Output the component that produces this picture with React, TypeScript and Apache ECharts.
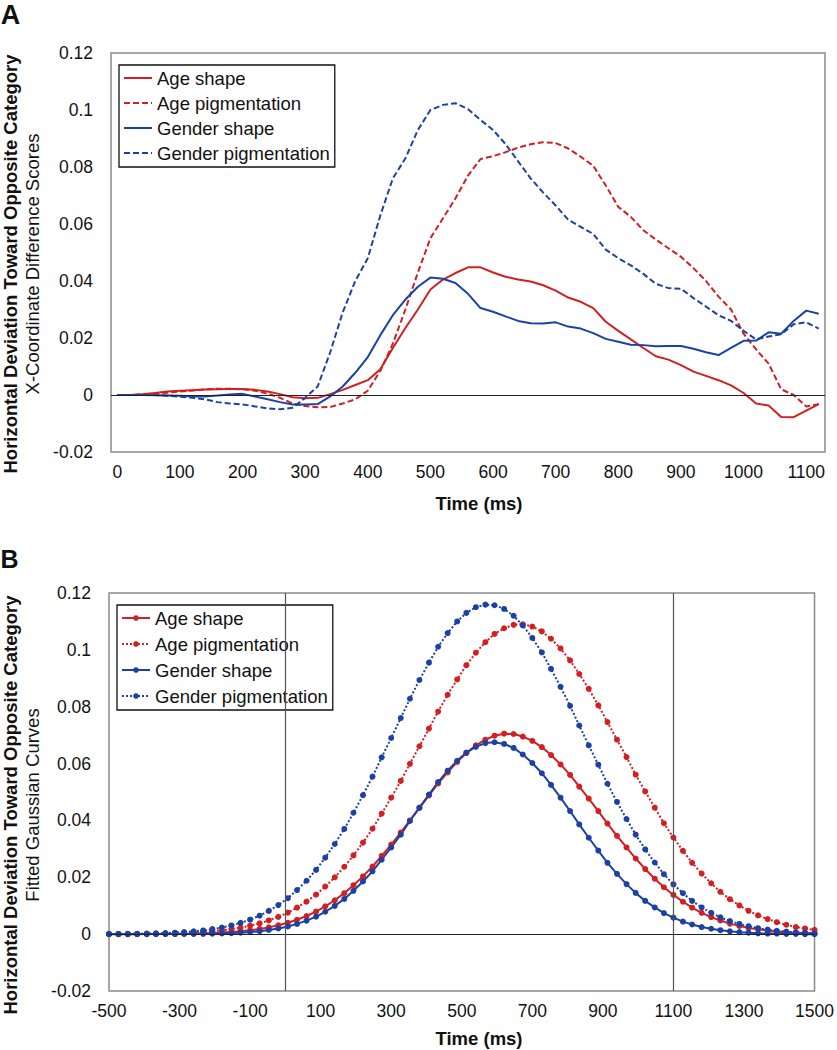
import React, { useEffect, useRef } from 'react';
import * as echarts from 'echarts';

const FONT = '"Liberation Sans", Arial, Helvetica, sans-serif';
const RED = '#d21f22';
const BLUE = '#1b42a3';
const TXT = '#111111';

const seriesNames = ['Age shape', 'Age pigmentation', 'Gender shape', 'Gender pigmentation'];

// ---------- Panel A: X-coordinate difference scores (20 ms bins) ----------
const timeA = ['0', '20', '40', '60', '80', '100', '120', '140', '160', '180', '200',
  '220', '240', '260', '280', '300', '320', '340', '360', '380', '400',
  '420', '440', '460', '480', '500', '520', '540', '560', '580', '600',
  '620', '640', '660', '680', '700', '720', '740', '760', '780', '800',
  '820', '840', '860', '880', '900', '920', '940', '960', '980', '1000',
  '1020', '1040', '1060', '1080', '1100', '1120'];

const ageShapeA = [0, 0, 0.0003, 0.0007, 0.0012, 0.0015, 0.0017, 0.0019, 0.002, 0.0021, 0.0021,
  0.0018, 0.0012, 0.0003, -0.0008, -0.0011, -0.001, 0.0003, 0.0018, 0.0035, 0.0052,
  0.009, 0.0165, 0.0235, 0.03, 0.037, 0.0405, 0.0428, 0.0448, 0.0448, 0.043,
  0.0415, 0.0405, 0.0398, 0.0385, 0.0366, 0.0342, 0.0327, 0.0305, 0.0257, 0.0225,
  0.0195, 0.0165, 0.0136, 0.0124, 0.0105, 0.0082, 0.0067, 0.0052, 0.0034, 0.0007,
  -0.003, -0.0037, -0.0077, -0.0078, -0.0055, -0.0032];

const agePigA = [0, 0, 0.0002, 0.0005, 0.0008, 0.0012, 0.0016, 0.002, 0.0022, 0.0022, 0.002,
  0.0015, 0.0005, -0.001, -0.003, -0.0039, -0.0043, -0.0042, -0.003, -0.0015, 0.0015,
  0.0085, 0.018, 0.03, 0.043, 0.055, 0.062, 0.069, 0.077, 0.0828, 0.0838,
  0.0852, 0.0868, 0.088, 0.0887, 0.0884, 0.0865, 0.0836, 0.0804, 0.0735, 0.066,
  0.0625, 0.0578, 0.0545, 0.0515, 0.0485, 0.0445, 0.04, 0.0345, 0.03, 0.0215,
  0.016, 0.011, 0.002, 0, -0.004, -0.0032];

const genderShapeA = [0, 0, 0, -0.0001, -0.0002, -0.0003, -0.0005, -0.0005, -0.0002, 0.0002, 0.0004,
  -0.0005, -0.0015, -0.0025, -0.0033, -0.0033, -0.0032, -0.0005, 0.003, 0.0078, 0.0133,
  0.021, 0.028, 0.0335, 0.038, 0.0412, 0.0408, 0.0393, 0.0355, 0.0305, 0.0292,
  0.0276, 0.026, 0.0252, 0.0251, 0.0255, 0.024, 0.0233, 0.0217, 0.0197, 0.0187,
  0.0176, 0.0175, 0.0171, 0.0172, 0.0172, 0.0162, 0.015, 0.014, 0.0165, 0.019,
  0.0191, 0.022, 0.0215, 0.026, 0.0296, 0.0285];

const genderPigA = [0, 0, 0, 0, -0.0003, -0.0006, -0.001, -0.0015, -0.0025, -0.003, -0.0033,
  -0.004, -0.0047, -0.005, -0.0045, -0.001, 0.003, 0.015, 0.029, 0.04, 0.048,
  0.063, 0.076, 0.083, 0.093, 0.1, 0.1018, 0.1024, 0.1003, 0.0965, 0.093,
  0.088, 0.082, 0.076, 0.071, 0.0665, 0.0615, 0.059, 0.0565, 0.051, 0.048,
  0.0455, 0.0425, 0.039, 0.0375, 0.0373, 0.034, 0.031, 0.028, 0.026, 0.0225,
  0.0195, 0.0205, 0.0213, 0.0248, 0.0255, 0.0233];

// ---------- Panel B: fitted Gaussian curves ----------
const timeB = [-500, -473, -447, -420, -393, -367, -340, -313, -287, -260, -233, -207, -180, -153, -127,
  -100, -73, -47, -20, 7, 33, 60, 87, 113, 140, 167, 193, 220, 247, 273, 300, 327, 353, 380, 407, 433,
  460, 487, 513, 540, 567, 593, 620, 647, 673, 700, 727, 753, 780, 807, 833, 860, 887, 913, 940, 967,
  993, 1020, 1047, 1073, 1100, 1127, 1153, 1180, 1207, 1233, 1260, 1287, 1313, 1340, 1367, 1393, 1420,
  1447, 1473, 1500];

const ageShapeB = [0.00001, 0.00001, 0.00001, 0.00002, 0.00003, 0.00005, 0.00007, 0.0001, 0.00014, 0.0002,
  0.00028, 0.0004, 0.00055, 0.00075, 0.00102, 0.00137, 0.00182, 0.00238, 0.0031, 0.00399,
  0.00506, 0.00638, 0.00794, 0.00979, 0.01193, 0.01441, 0.01722, 0.0203, 0.0238, 0.0275,
  0.0315, 0.0357, 0.04, 0.0444, 0.0488, 0.053, 0.0569, 0.0606, 0.0637, 0.0664,
  0.0684, 0.0698, 0.0705, 0.0704, 0.0695, 0.068, 0.0658, 0.063, 0.0597, 0.056,
  0.0519, 0.0477, 0.0433, 0.0389, 0.0346, 0.0305, 0.0266, 0.0229, 0.0195, 0.0165,
  0.0138, 0.0114, 0.0093, 0.0075, 0.006, 0.0048, 0.0037, 0.0029, 0.0022, 0.0017,
  0.0013, 0.0009, 0.0007, 0.0005, 0.0004, 0.0003];

const agePigB = [0.00003, 0.00004, 0.00005, 0.00008, 0.00011, 0.00016, 0.00022, 0.0003, 0.00041, 0.00056,
  0.00076, 0.00102, 0.00134, 0.00177, 0.0023, 0.00297, 0.0038, 0.00482, 0.00608, 0.00756,
  0.00936, 0.01144, 0.01392, 0.01673, 0.02, 0.0237, 0.0277, 0.0322, 0.0371, 0.0424,
  0.048, 0.0539, 0.0599, 0.0661, 0.0723, 0.0783, 0.0842, 0.0896, 0.0946, 0.099,
  0.1027, 0.1056, 0.1076, 0.1088, 0.109, 0.1082, 0.1065, 0.1039, 0.1005, 0.0963,
  0.0915, 0.0863, 0.0805, 0.0746, 0.0684, 0.0623, 0.0561, 0.0502, 0.0445, 0.039,
  0.034, 0.0293, 0.0251, 0.0213, 0.0179, 0.0149, 0.0123, 0.0101, 0.0082, 0.0066,
  0.0053, 0.0042, 0.0033, 0.0025, 0.002, 0.0015];

const genderShapeB = [0, 0, 0, 0, 0.00001, 0.00001, 0.00002, 0.00003, 0.00005, 0.00007,
  0.00011, 0.00017, 0.00025, 0.00036, 0.00053, 0.00075, 0.00105, 0.00146, 0.002, 0.0027,
  0.0036, 0.00474, 0.00615, 0.00787, 0.00994, 0.01239, 0.01524, 0.01851, 0.0221, 0.0262,
  0.0305, 0.035, 0.0398, 0.0445, 0.0491, 0.0535, 0.0575, 0.061, 0.0639, 0.0659,
  0.0672, 0.0675, 0.0669, 0.0655, 0.0632, 0.0602, 0.0566, 0.0525, 0.048, 0.0433,
  0.0386, 0.0339, 0.0294, 0.0251, 0.0212, 0.0176, 0.0145, 0.0117, 0.0094, 0.0074,
  0.0058, 0.0044, 0.0034, 0.0025, 0.0019, 0.0014, 0.001, 0.0007, 0.0005, 0.0003,
  0.0002, 0.0002, 0.0001, 0.0001, 0, 0];

const genderPigB = [0.00004, 0.00006, 0.00009, 0.00013, 0.00019, 0.00026, 0.00037, 0.00052, 0.00071, 0.00097,
  0.00131, 0.00176, 0.00233, 0.00305, 0.00396, 0.0051, 0.0065, 0.00818, 0.01022, 0.01265,
  0.01551, 0.01879, 0.0226, 0.0269, 0.0317, 0.037, 0.0427, 0.0489, 0.0554, 0.0622,
  0.069, 0.076, 0.0828, 0.0894, 0.0955, 0.1011, 0.1059, 0.11, 0.113, 0.115,
  0.1159, 0.1157, 0.1144, 0.112, 0.1086, 0.1042, 0.0991, 0.0933, 0.087, 0.0803,
  0.0734, 0.0664, 0.0596, 0.0529, 0.0465, 0.0405, 0.035, 0.0298, 0.0252, 0.0211,
  0.0175, 0.0144, 0.0117, 0.0094, 0.0075, 0.0059, 0.0046, 0.0036, 0.0028, 0.0021,
  0.0016, 0.0012, 0.0009, 0.0006, 0.0005, 0.0003];

const yTitleBold = 'Horizontal Deviation Toward Opposite Category';
const yTitleA = 'X-Coordinate Difference Scores';
const yTitleB = 'Fitted Gaussian Curves';
const xTitle = 'Time (ms)';

const yFmt = (v: number) => String(parseFloat(Number(v).toFixed(2)));

function textEl(text: string, x: number, y: number, size: number, bold: boolean, rot = 0) {
  return {
    type: 'text',
    x,
    y,
    rotation: rot,
    silent: true,
    style: {
      text,
      fill: TXT,
      fontSize: size,
      fontWeight: bold ? 'bold' : 'normal',
      fontFamily: FONT,
      align: 'center',
      verticalAlign: 'middle',
      textAlign: 'center',
      textVerticalAlign: 'middle',
    },
  };
}

function legendCfg(top: number, gap: number, left: number, hideSymbol: boolean) {
  const cfg: any = {
    orient: 'vertical',
    left,
    top,
    itemWidth: 28,
    itemHeight: 7,
    itemGap: gap,
    padding: [3, 5, 4, 4],
    borderColor: '#111',
    borderWidth: 1.3,
    backgroundColor: '#fff',
    selectedMode: false,
    textStyle: { fontFamily: FONT, fontSize: 18.5, color: TXT, lineHeight: 20 },
    data: seriesNames,
  };
  if (hideSymbol) cfg.itemStyle = { opacity: 0 };
  return cfg;
}

const tickLabel = { fontFamily: FONT, fontSize: 17.5, color: TXT };

function optionA(): any {
  const styles = [
    { color: RED, type: 'solid' },
    { color: RED, type: [6, 3] },
    { color: BLUE, type: 'solid' },
    { color: BLUE, type: [6, 3] },
  ];
  const data = [ageShapeA, agePigA, genderShapeA, genderPigA];
  return {
    animation: false,
    backgroundColor: '#fff',
    textStyle: { fontFamily: FONT },
    grid: { left: 111, top: 53, width: 714, height: 399, show: true, borderColor: '#8a8a8a', borderWidth: 1.5 },
    xAxis: {
      type: 'category',
      data: timeA,
      boundaryGap: true,
      axisLine: { show: false },
      axisTick: { show: false },
      splitLine: { show: false },
      axisLabel: { ...tickLabel, interval: 4, margin: 11 },
    },
    yAxis: {
      type: 'value',
      min: -0.02,
      max: 0.12,
      interval: 0.02,
      axisLine: { show: false },
      axisTick: { show: false },
      splitLine: { show: false },
      axisLabel: { ...tickLabel, margin: 18, formatter: yFmt },
    },
    legend: legendCfg(65, 5, 119, true),
    series: seriesNames.map((name, i) => ({
      name,
      type: 'line',
      data: data[i],
      symbol: 'none',
      smooth: false,
      emphasis: { disabled: true },
      itemStyle: { color: styles[i].color },
      lineStyle: { color: styles[i].color, width: 2, type: styles[i].type },
      z: 3,
      markLine: i === 0 ? {
        silent: true,
        symbol: ['none', 'none'],
        label: { show: false },
        lineStyle: { color: '#222', width: 1.2, type: 'solid' },
        data: [{ yAxis: 0 }],
      } : undefined,
    })),
    graphic: [
      textEl('A', 10.5, 15, 27, true),
      textEl(yTitleBold, 10, 264, 18.5, true, Math.PI / 2),
      textEl(yTitleA, 32, 264, 18.5, false, Math.PI / 2),
      textEl(xTitle, 479, 503, 18.5, true),
    ],
  };
}

function optionB(): any {
  const styles = [
    { color: RED, type: 'solid' },
    { color: RED, type: [2, 2] },
    { color: BLUE, type: 'solid' },
    { color: BLUE, type: [2, 2] },
  ];
  const data = [ageShapeB, agePigB, genderShapeB, genderPigB];
  return {
    animation: false,
    backgroundColor: '#fff',
    textStyle: { fontFamily: FONT },
    grid: { left: 109, top: 63, width: 715, height: 398, show: true, borderColor: '#8a8a8a', borderWidth: 1.5 },
    xAxis: {
      type: 'value',
      min: -500,
      max: 1500,
      interval: 200,
      axisLine: { show: false },
      axisTick: { show: false },
      splitLine: { show: false },
      axisLabel: { ...tickLabel, margin: 11, formatter: (v: number) => String(v) },
    },
    yAxis: {
      type: 'value',
      min: -0.02,
      max: 0.12,
      interval: 0.02,
      axisLine: { show: false },
      axisTick: { show: false },
      splitLine: { show: false },
      axisLabel: { ...tickLabel, margin: 18, formatter: yFmt },
    },
    legend: legendCfg(75, 6, 117, false),
    series: seriesNames.map((name, i) => ({
      name,
      type: 'line',
      data: timeB.map((t, k) => [t, data[i][k]]),
      symbol: 'circle',
      symbolSize: 6,
      showSymbol: true,
      smooth: false,
      emphasis: { disabled: true },
      itemStyle: { color: styles[i].color },
      lineStyle: { color: styles[i].color, width: 2, type: styles[i].type },
      z: 3,
      markLine: i === 0 ? {
        silent: true,
        symbol: ['none', 'none'],
        label: { show: false },
        data: [
          { yAxis: 0, lineStyle: { color: '#222', width: 1.2, type: 'solid' } },
          { xAxis: 0, lineStyle: { color: '#555', width: 1.2, type: 'solid' } },
          { xAxis: 1100, lineStyle: { color: '#555', width: 1.2, type: 'solid' } },
        ],
      } : undefined,
    })),
    graphic: [
      textEl('B', 9.5, 29, 25, true),
      textEl(yTitleBold, 10, 275, 18.5, true, Math.PI / 2),
      textEl(yTitleB, 32, 275, 18.5, false, Math.PI / 2),
      textEl(xTitle, 479, 508, 18.5, true),
    ],
  };
}

export default function App() {
  const refA = useRef<HTMLDivElement>(null);
  const refB = useRef<HTMLDivElement>(null);
  useEffect(() => {
    const a = echarts.init(refA.current as HTMLDivElement, null, { renderer: 'svg' });
    a.setOption(optionA());
    const b = echarts.init(refB.current as HTMLDivElement, null, { renderer: 'svg' });
    b.setOption(optionB());
    return () => {
      a.dispose();
      b.dispose();
    };
  }, []);
  return (
    <div style={{ position: 'absolute', left: 0, top: 0, width: 837, height: 1050, background: '#fff' }}>
      <div ref={refA} style={{ width: 837, height: 530 }} />
      <div ref={refB} style={{ width: 837, height: 520 }} />
    </div>
  );
}
